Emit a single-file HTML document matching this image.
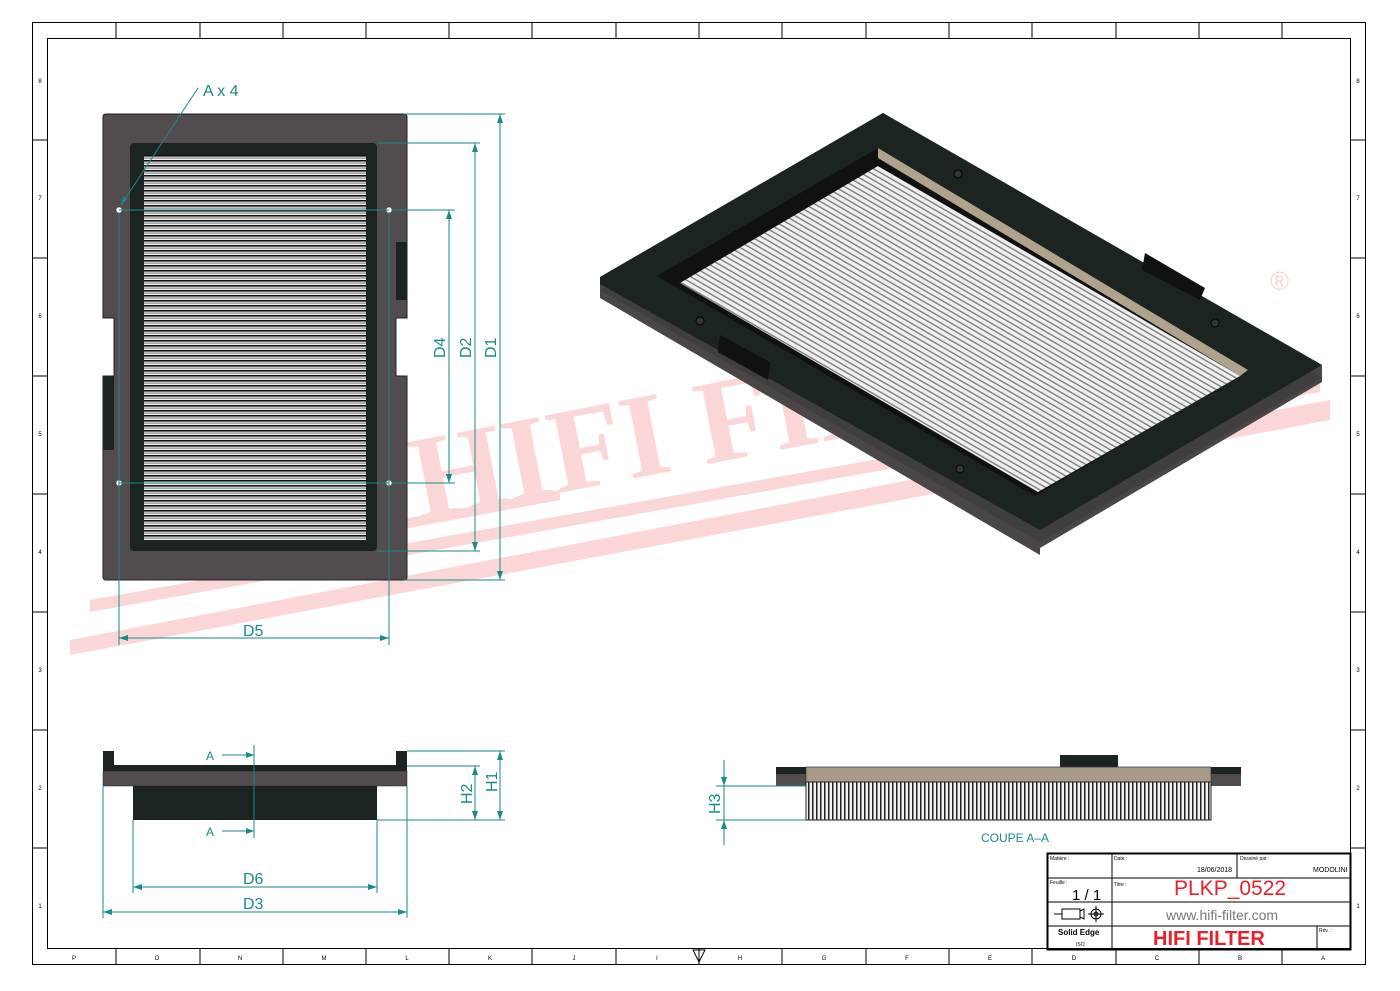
<!DOCTYPE html>
<html><head><meta charset="utf-8"><style>
html,body{margin:0;padding:0;background:#fff;}
svg{display:block;font-family:"Liberation Sans",sans-serif;}
</style></head><body>
<svg width="1400" height="991" viewBox="0 0 1400 991" xmlns="http://www.w3.org/2000/svg">
<defs>
<pattern id="hs" width="8" height="5" patternUnits="userSpaceOnUse">
<rect width="8" height="5" fill="#f2f2f2"/><rect y="0" width="8" height="1.6" fill="#111"/><rect y="2.5" width="8" height="1.2" fill="#888"/>
</pattern>
<pattern id="vs" width="4" height="8" patternUnits="userSpaceOnUse">
<rect width="4" height="8" fill="#f4f4f4"/><rect x="0" width="1.5" height="8" fill="#222"/>
</pattern>
<pattern id="ds" width="5" height="5" patternUnits="userSpaceOnUse" patternTransform="rotate(-60)">
<rect width="5" height="5" fill="#eee"/><rect width="1.3" height="5" fill="#777"/>
</pattern>
</defs>
<rect x="32.5" y="22.5" width="1333" height="942" fill="none" stroke="#000"/>
<rect x="47.5" y="38.5" width="1303" height="910" fill="none" stroke="#000"/>
<g stroke="#000" stroke-width="1">
<path d="M116 22v16M200 22v16M283 22v16M366 22v16M449 22v16M532 22v16M616 22v16M699 22v16M782 22v16M866 22v16M949 22v16M1032 22v16M1116 22v16M1199 22v16M1282 22v16"/>
<path d="M116 949v16M200 949v16M283 949v16M366 949v16M449 949v16M532 949v16M616 949v16M699 949v16M782 949v16M866 949v16M949 949v16M1032 949v16M1116 949v16M1199 949v16M1282 949v16"/>
<path d="M32 140h15M32 258h15M32 376h15M32 494h15M32 612h15M32 730h15M32 848h15"/>
<path d="M1351 140h15M1351 258h15M1351 376h15M1351 494h15M1351 612h15M1351 730h15M1351 848h15"/>
</g>
<g font-size="6" fill="#000" text-anchor="middle">
<text x="74" y="960">P</text><text x="157" y="960">O</text><text x="240" y="960">N</text><text x="324" y="960">M</text><text x="407" y="960">L</text><text x="490" y="960">K</text><text x="574" y="960">J</text><text x="657" y="960">I</text><text x="740" y="960">H</text><text x="824" y="960">G</text><text x="907" y="960">F</text><text x="990" y="960">E</text><text x="1074" y="960">D</text><text x="1157" y="960">C</text><text x="1240" y="960">B</text><text x="1323" y="960">A</text>
<text x="40" y="83">8</text><text x="40" y="200">7</text><text x="40" y="318">6</text><text x="40" y="436">5</text><text x="40" y="554">4</text><text x="40" y="672">3</text><text x="40" y="790">2</text><text x="40" y="908">1</text>
<text x="1358" y="83">8</text><text x="1358" y="200">7</text><text x="1358" y="318">6</text><text x="1358" y="436">5</text><text x="1358" y="554">4</text><text x="1358" y="672">3</text><text x="1358" y="790">2</text><text x="1358" y="908">1</text>
</g>
<path d="M693 950 L705 950 L699 962Z" fill="none" stroke="#000"/>
<g opacity="0.18" fill="#e8202a">
<polygon points="70,640 1330,400 1330,420 70,655"/>
<polygon points="90,600 1320,380 1320,392 90,612"/>
<polygon points="130,570 560,490 560,500 130,580"/>
<text x="420" y="520" font-family="Liberation Serif,serif" font-weight="bold" font-size="120" transform="rotate(-11 420 520)">HIFI FILTER</text>
</g>
<path d="M106 114H404Q407 114 407 117V318H396V376H407V577Q407 580 404 580H106Q103 580 103 577V376H114V318H103V117Q103 114 106 114Z" fill="#524c4f" stroke="#222"/>
<rect x="130" y="143" width="247" height="408" rx="4" fill="#1c2422"/>
<rect x="144" y="155" width="222" height="385" fill="url(#hs)"/>
<rect x="396" y="242" width="11" height="58" fill="#1c2422"/>
<rect x="103" y="376" width="11" height="74" fill="#1c2422"/>
<g fill="#fff" stroke="#333" stroke-width=".5"><circle cx="119" cy="210" r="3"/><circle cx="389" cy="210" r="3"/><circle cx="119" cy="483" r="3"/><circle cx="389" cy="483" r="3"/></g>
<g stroke="#1a8a8a" stroke-width="1" fill="none">
<path d="M404 114H505M377 143H480M392 210H455M392 483H455M377 551H480M404 580H505"/>
<path d="M500 114V580M475 143V551M449 210V483"/>
<path d="M119 210H389M119 483H389"/>
<path d="M119 213V645M389 213V645M119 638H389"/>
<path d="M198 88 L121 205"/>
</g>
<g fill="#1a8a8a">
<path d="M500 114l-3 9h6zM500 580l-3-9h6zM475 143l-3 9h6zM475 551l-3-9h6zM449 210l-3 9h6zM449 483l-3-9h6z"/>
<path d="M119 638l9-3v6zM389 638l-9-3v6zM121 205l2-9 4 3z"/>
</g>
<g fill="#1a8a8a" font-size="16">
<text x="203" y="96">A x 4</text>
<text x="243" y="636">D5</text>
<text transform="translate(445 358) rotate(-90)">D4</text>
<text transform="translate(471 358) rotate(-90)">D2</text>
<text transform="translate(496 358) rotate(-90)">D1</text>
</g>
<rect x="103" y="751" width="11" height="15" fill="#1c2422"/>
<rect x="396" y="751" width="11" height="15" fill="#1c2422"/>
<rect x="103" y="765" width="304" height="6" fill="#1c2422"/>
<rect x="103" y="771" width="304" height="15" fill="#524c4f" stroke="#222" stroke-width=".5"/>
<rect x="133" y="786" width="244" height="34" fill="#1c2422"/>
<g stroke="#1a8a8a" fill="none">
<path d="M407 751H505M407 766H480M377 820H505M475 766V820M500 751V820"/>
<path d="M254 745V838M222 755H254M222 831H254"/>
<path d="M103 786V918M133 820V893M377 820V893M407 786V918M133 887H377M103 912H407"/>
</g>
<g fill="#1a8a8a">
<path d="M475 766l-3 9h6zM475 820l-3-9h6zM500 751l-3 9h6zM500 820l-3-9h6zM254 755l-8-3v6zM254 831l-8-3v6z"/>
<path d="M133 887l9-3v6zM377 887l-9-3v6zM103 912l9-3v6zM407 912l-9-3v6z"/>
</g>
<g fill="#1a8a8a" font-size="16">
<text x="243" y="884">D6</text><text x="243" y="909">D3</text>
<text transform="translate(472 804) rotate(-90)">H2</text>
<text transform="translate(497 792) rotate(-90)">H1</text>
<text x="206" y="760" font-size="12">A</text><text x="206" y="836" font-size="12">A</text>
</g>
<rect x="1060" y="755" width="58" height="13" fill="#1c2422"/>
<rect x="776" y="767" width="30" height="7" fill="#1c2422"/>
<rect x="776" y="774" width="30" height="12" fill="#524c4f"/>
<rect x="1211" y="767" width="30" height="7" fill="#1c2422"/>
<rect x="1211" y="774" width="30" height="12" fill="#524c4f"/>
<rect x="806" y="767" width="405" height="15" fill="#a89a88" stroke="#333" stroke-width=".7"/>
<rect x="806" y="782" width="405" height="38" fill="url(#vs)" stroke="#222"/>
<g stroke="#1a8a8a" fill="none"><path d="M716 786H806M716 820H806M724 760V845"/></g>
<g fill="#1a8a8a"><path d="M724 786l-3-9h6zM724 820l-3 9h6z"/>
<text transform="translate(720 814) rotate(-90)" font-size="16">H3</text>
<text x="981" y="842" font-size="12">COUPE A–A</text></g>
<polygon points="600,277 883,113 1322,365 1322,382 1040,548 1040,555 600,298" fill="#4a4547"/>
<polygon points="600,290 883,126 1322,378 1040,542" fill="#3a3a3a" opacity=".6"/>
<polygon points="600,277 883,113 1322,365 1040,530 600,284" fill="#1c2422"/>
<polygon points="657,276 878,148 1248,370 1035,496" fill="#111"/>
<polygon points="878,148 1248,370 1240,376 878,158" fill="#b0a28c"/>
<polygon points="680,283 878,166 1240,376 1038,492" fill="url(#ds)"/>
<polygon points="1145,253 1205,288 1200,300 1142,270" fill="#111"/>
<polygon points="720,335 770,362 768,380 718,352" fill="#111"/>
<g fill="#333" stroke="#000"><circle cx="958" cy="174" r="4"/><circle cx="1215" cy="323" r="4"/><circle cx="700" cy="321" r="4"/><circle cx="960" cy="469" r="4"/></g>
<text x="1270" y="290" font-size="26" fill="#e8202a" opacity=".2">®</text>
<g stroke="#000" fill="none">
<rect x="1047.5" y="853.5" width="303" height="96" stroke-width="2"/>
<path d="M1047 878H1351M1047 902H1351M1047 926H1351M1112 853V949M1237 853V878M1317 926V949"/>
</g>
<g font-size="5" fill="#000"><text x="1050" y="860">Matière :</text><text x="1114" y="860">Date :</text><text x="1240" y="860">Dessiné par :</text><text x="1050" y="884">Feuille :</text><text x="1114" y="886">Titre :</text><text x="1319" y="932">Rév. :</text></g>
<text x="1197" y="872" font-size="7">18/06/2018</text>
<text x="1313" y="872" font-size="7">MODOLINI</text>
<text x="1072" y="900" font-size="15">1 / 1</text>
<text x="1174" y="895" font-size="21" fill="#e8202a">PLKP_0522</text>
<text x="1166" y="920" font-size="14" fill="#777">www.hifi-filter.com</text>
<text x="1153" y="945" font-size="20" font-weight="bold" fill="#e8202a">HIFI FILTER</text>
<text x="1058" y="935" font-size="8" font-weight="bold">Solid Edge</text>
<text x="1076" y="946" font-size="5">ISO</text>
<g stroke="#000" fill="none"><path d="M1054 914h8M1062 909h18v10h-18zM1080 911l4-2v10l-4-2"/><circle cx="1096" cy="914" r="5"/><circle cx="1096" cy="914" r="2"/><path d="M1088 914h16M1096 906v16"/></g>
</svg>
</body></html>
